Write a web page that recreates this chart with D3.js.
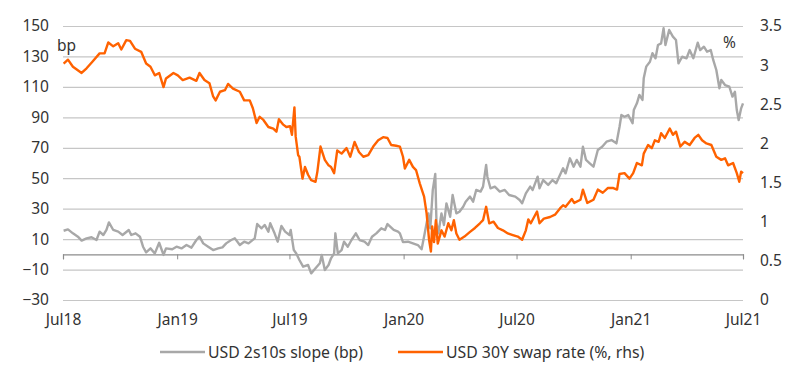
<!DOCTYPE html>
<html>
<head>
<meta charset="utf-8">
<script src="https://cdn.jsdelivr.net/npm/d3@7"></script>
<style>
  body { margin: 0; background: #fff; }
  text { font-family: "Noto Sans", sans-serif; fill: #333; }
</style>
</head>
<body>
<svg id="chart" width="800" height="374"></svg>
<script>
// donnees
const slopeDates = ["2018-07-02","2018-07-09","2018-07-17","2018-07-25","2018-07-31","2018-08-08","2018-08-16","2018-08-24","2018-08-29","2018-09-04",
  "2018-09-09","2018-09-13","2018-09-20","2018-09-28","2018-10-05","2018-10-15","2018-10-19","2018-10-26","2018-11-02","2018-11-07",
  "2018-11-12","2018-11-19","2018-11-26","2018-12-03","2018-12-10","2018-12-14","2018-12-24","2018-12-31","2019-01-08","2019-01-16",
  "2019-01-24","2019-02-01","2019-02-06","2019-02-12","2019-02-20","2019-02-28","2019-03-08","2019-03-15","2019-03-21","2019-03-29",
  "2019-04-04","2019-04-12","2019-04-19","2019-04-26","2019-05-06","2019-05-10","2019-05-17","2019-05-22","2019-05-28","2019-05-31",
  "2019-06-07","2019-06-12","2019-06-18","2019-06-24","2019-07-01","2019-07-03","2019-07-08","2019-07-12","2019-07-17","2019-07-23",
  "2019-07-31","2019-08-05","2019-08-12","2019-08-19","2019-08-22","2019-08-27","2019-09-02","2019-09-06","2019-09-11","2019-09-13",
  "2019-09-17","2019-09-23","2019-09-27","2019-10-03","2019-10-09","2019-10-16","2019-10-22","2019-10-30","2019-11-05","2019-11-11",
  "2019-11-18","2019-11-26","2019-12-02","2019-12-06","2019-12-16","2019-12-23","2019-12-26","2019-12-31","2020-01-08","2020-01-16",
  "2020-01-24","2020-01-30","2020-02-04","2020-02-10","2020-02-13","2020-02-17","2020-02-21","2020-02-23","2020-02-26","2020-03-02",
  "2020-03-06","2020-03-10","2020-03-16","2020-03-20","2020-03-26","2020-03-31","2020-04-06","2020-04-10","2020-04-17","2020-04-22",
  "2020-04-27","2020-05-04","2020-05-08","2020-05-13","2020-05-15","2020-05-20","2020-05-27","2020-06-04","2020-06-12","2020-06-19",
  "2020-06-29","2020-07-06","2020-07-10","2020-07-16","2020-07-23","2020-07-27","2020-08-04","2020-08-07","2020-08-13","2020-08-21",
  "2020-08-28","2020-09-03","2020-09-09","2020-09-14","2020-09-18","2020-09-25","2020-10-01","2020-10-06","2020-10-12","2020-10-16",
  "2020-10-21","2020-10-27","2020-11-02","2020-11-09","2020-11-16","2020-11-23","2020-12-01","2020-12-09","2020-12-14","2020-12-17",
  "2020-12-22","2020-12-28","2021-01-04","2021-01-06","2021-01-11","2021-01-15","2021-01-20","2021-01-22","2021-01-26","2021-02-01",
  "2021-02-05","2021-02-10","2021-02-14","2021-02-19","2021-02-23","2021-02-26","2021-03-04","2021-03-10","2021-03-15","2021-03-19",
  "2021-03-25","2021-04-01","2021-04-06","2021-04-12","2021-04-19","2021-04-23","2021-04-29","2021-05-04","2021-05-10","2021-05-14",
  "2021-05-19","2021-05-24","2021-05-27","2021-06-02","2021-06-09","2021-06-14","2021-06-18","2021-06-21","2021-06-24","2021-06-28",
  "2021-07-01"];
const slopeValues = [15.5,16.4,13.8,11.6,9.0,10.5,11.2,9.4,14.9,12.7,
  16.0,21.0,16.0,14.9,12.7,16.0,12.7,13.8,11.6,5.0,
  1.3,3.9,0.6,7.6,-0.4,3.9,3.3,5.0,3.9,6.1,
  4.4,9.4,11.6,7.2,5.0,2.8,3.9,4.6,7.2,9.4,
  10.5,6.1,8.3,7.2,10.5,19.9,17.1,19.3,14.9,20.4,
  13.8,8.3,18.6,14.9,12.7,16.0,2.8,0.6,-3.7,-8.1,
  -7.0,-12.5,-9.2,-5.9,-0.4,-10.3,-7.0,-2.6,0.6,13.8,
  0.6,2.8,8.3,5.0,9.4,13.8,9.4,8.3,6.1,11.6,
  13.8,17.1,16.0,19.9,16.0,14.9,13.8,8.0,8.3,7.2,
  6.1,3.3,13.8,26.9,17.1,42.3,52.8,20.4,13.8,26.9,
  19.3,33.5,24.7,39.0,26.9,28.0,31.3,34.6,37.9,34.6,
  42.3,41.2,44.5,58.7,51.0,43.4,44.5,41.2,42.3,39.0,
  37.9,35.7,33.5,40.1,44.5,42.3,51.0,43.4,48.8,45.6,
  48.8,46.7,52.1,56.5,53.2,63.1,57.6,62.0,57.6,70.7,
  62.0,59.8,57.6,68.5,70.7,74.0,75.1,72.9,83.8,91.5,
  90.4,91.5,86.1,94.8,99.2,104.7,101.4,115.6,123.3,126.5,
  132.1,128.8,137.5,138.6,148.5,137.5,147.4,143.0,140.8,125.5,
  129.8,128.8,134.2,128.8,139.0,134.2,136.4,133.1,134.2,127.7,
  121.1,109.1,114.5,111.2,110.1,103.6,106.8,94.8,88.2,95.9,
  99.2];

const swapDates = ["2018-07-02","2018-07-09","2018-07-17","2018-07-31","2018-08-08","2018-08-17","2018-08-29","2018-09-06","2018-09-12","2018-09-20",
  "2018-09-28","2018-10-03","2018-10-11","2018-10-17","2018-10-25","2018-11-04","2018-11-12","2018-11-19","2018-11-26","2018-12-03",
  "2018-12-10","2018-12-14","2018-12-26","2019-01-02","2019-01-10","2019-01-21","2019-02-01","2019-02-06","2019-02-14","2019-02-22",
  "2019-02-28","2019-03-04","2019-03-11","2019-03-19","2019-03-24","2019-04-01","2019-04-12","2019-04-19","2019-04-28","2019-05-03",
  "2019-05-09","2019-05-14","2019-05-20","2019-05-28","2019-06-05","2019-06-10","2019-06-14","2019-06-21","2019-06-26","2019-07-02",
  "2019-07-05","2019-07-09","2019-07-11","2019-07-15","2019-07-17","2019-07-22","2019-07-26","2019-07-31","2019-08-05","2019-08-12",
  "2019-08-15","2019-08-20","2019-08-27","2019-09-02","2019-09-06","2019-09-11","2019-09-16","2019-09-23","2019-10-01","2019-10-07",
  "2019-10-14","2019-10-21","2019-10-28","2019-11-05","2019-11-13","2019-11-21","2019-11-29","2019-12-06","2019-12-12","2019-12-20",
  "2019-12-26","2019-12-31","2020-01-03","2020-01-10","2020-01-16","2020-01-21","2020-01-27","2020-02-03","2020-02-07","2020-02-11",
  "2020-02-14","2020-02-16","2020-02-19","2020-02-22","2020-02-25","2020-03-02","2020-03-07","2020-03-13","2020-03-18","2020-03-22",
  "2020-03-26","2020-03-31","2020-04-08","2020-04-17","2020-04-25","2020-05-03","2020-05-08","2020-05-13","2020-05-18","2020-05-25",
  "2020-06-01","2020-06-09","2020-06-17","2020-06-25","2020-07-03","2020-07-10","2020-07-16","2020-07-20","2020-07-24","2020-08-03",
  "2020-08-07","2020-08-14","2020-08-24","2020-09-01","2020-09-09","2020-09-14","2020-09-18","2020-09-28","2020-10-02","2020-10-12",
  "2020-10-16","2020-10-23","2020-11-02","2020-11-09","2020-11-17","2020-11-25","2020-12-04","2020-12-10","2020-12-14","2020-12-22",
  "2020-12-30","2021-01-05","2021-01-11","2021-01-19","2021-01-22","2021-01-29","2021-02-04","2021-02-09","2021-02-15","2021-02-19",
  "2021-02-25","2021-03-05","2021-03-10","2021-03-15","2021-03-22","2021-03-29","2021-04-06","2021-04-14","2021-04-20","2021-04-26",
  "2021-05-03","2021-05-11","2021-05-19","2021-05-27","2021-06-02","2021-06-07","2021-06-15","2021-06-21","2021-06-25","2021-06-28",
  "2021-07-01"];
const swapValues = [3.02,3.07,2.98,2.90,2.96,3.04,3.15,3.15,3.29,3.24,
  3.28,3.20,3.32,3.31,3.21,3.17,3.02,2.98,2.87,2.90,
  2.72,2.83,2.90,2.87,2.81,2.84,2.80,2.90,2.81,2.77,
  2.60,2.55,2.66,2.68,2.76,2.70,2.66,2.55,2.55,2.45,
  2.26,2.34,2.30,2.21,2.19,2.15,2.31,2.24,2.21,2.22,
  2.11,2.46,2.09,1.85,1.83,1.55,1.70,1.60,1.53,1.51,
  1.64,1.96,1.79,1.72,1.70,1.62,1.91,1.87,1.94,1.83,
  2.02,1.89,1.83,1.85,1.96,2.04,2.08,2.07,1.98,1.97,
  1.96,1.83,1.68,1.79,1.70,1.66,1.49,1.32,1.11,0.77,
  0.62,0.94,0.74,1.02,0.72,0.89,0.81,0.98,0.89,1.02,
  0.85,0.77,0.81,0.87,0.92,0.98,1.02,1.19,0.98,1.00,
  0.92,0.89,0.85,0.83,0.81,0.77,0.89,1.03,0.98,1.13,
  0.98,1.04,1.06,1.09,1.17,1.21,1.19,1.29,1.24,1.28,
  1.41,1.24,1.28,1.41,1.37,1.43,1.43,1.41,1.61,1.62,
  1.55,1.62,1.75,1.72,1.87,1.98,1.94,2.04,2.02,2.13,
  2.07,2.19,2.11,2.15,1.96,2.02,1.98,2.07,2.11,2.04,
  2.00,1.98,1.83,1.79,1.81,1.72,1.75,1.62,1.51,1.64,
  1.62];

const leftTicks = [150,130,110,90,70,50,30,10,-10,-30];
const rightTicks = [0,0.5,1,1.5,2,2.5,3,3.5];
const xTicks = ["2018-07-01","2019-01-01","2019-07-01","2020-01-01","2020-07-01","2021-01-01","2021-07-01"];

const seriesNames = ["USD 2s10s slope (bp)", "USD 30Y swap rate (%, rhs)"];
const colors = ["#A8A8A8", "#FF6200"];


//dimensions
let margin = {top: 26, right: 57, bottom: 74, left: 63};
let svg = d3.select("#chart");
let width = 800 - margin.left - margin.right,
    height = 374 - margin.top - margin.bottom;

let parse = d3.timeParse("%Y-%m-%d");

let x = d3.scaleTime()
  .domain([parse("2018-07-01"), parse("2021-07-01")])
  .range([0, width]);
let yL = d3.scaleLinear().domain([-30, 150]).range([height, 0]);
let yR = d3.scaleLinear().domain([0, 3.5]).range([height, 0]);

let g = svg.append("g")
  .attr("transform", "translate(" + margin.left + "," + margin.top + ")");

//grille
g.append("g")
  .attr("class", "grid")
  .call(d3.axisLeft(yL).tickValues(leftTicks).tickSize(-width).tickFormat(""))
  .call(s => s.select(".domain").remove())
  .selectAll("line")
  .attr("stroke", "#C6C6C6")
  .attr("stroke-width", 1.2);

//axe gauche
g.append("g")
  .call(d3.axisLeft(yL).tickValues(leftTicks).tickSize(0).tickPadding(14).tickFormat(d3.format("d")))
  .call(s => s.select(".domain").remove())
  .selectAll("text")
  .style("font-size", "15.5px")
  .attr("fill", "#333");

//axe droit
g.append("g")
  .attr("transform", "translate(" + width + ",0)")
  .call(d3.axisRight(yR).tickValues(rightTicks).tickSize(0).tickPadding(17).tickFormat(d => d))
  .call(s => s.select(".domain").remove())
  .selectAll("text")
  .style("font-size", "15.5px")
  .attr("fill", "#333");

//axe x sur la ligne zero
let xAxis = g.append("g")
  .attr("transform", "translate(0," + yL(0) + ")")
  .call(d3.axisBottom(x).tickValues(xTicks.map(parse)).tickSize(5).tickFormat(d3.timeFormat("%b%y")));
xAxis.select(".domain").attr("stroke", "#8C8C8C").attr("stroke-width", 1.2);
xAxis.selectAll(".tick line").attr("stroke", "#8C8C8C");
xAxis.selectAll("text")
  .attr("y", height - yL(0) + 14)
  .style("font-size", "15.5px")
  .attr("fill", "#333");

//courbes
let lineL = d3.line()
  .x(function(d) { return x(d.date); })
  .y(function(d) { return yL(d.value); });
let lineR = d3.line()
  .x(function(d) { return x(d.date); })
  .y(function(d) { return yR(d.value); });

let slope = slopeDates.map((d, i) => ({date: parse(d), value: slopeValues[i]}));
let swap = swapDates.map((d, i) => ({date: parse(d), value: swapValues[i]}));

g.append("path")
  .datum(slope)
  .attr("fill", "none")
  .attr("stroke", colors[0])
  .attr("stroke-width", 2.4)
  .attr("stroke-linejoin", "round")
  .attr("d", lineL);

g.append("path")
  .datum(swap)
  .attr("fill", "none")
  .attr("stroke", colors[1])
  .attr("stroke-width", 2.4)
  .attr("stroke-linejoin", "round")
  .attr("d", lineR);

//unites
svg.append("text").attr("x", 57).attr("y", 51).style("font-size", "15.5px").text("bp");
svg.append("text").attr("x", 723).attr("y", 48).style("font-size", "15.5px").text("%");

//legende
let legend = svg.append("g").attr("transform", "translate(0,352)");
let legX = [160, 398];
seriesNames.forEach(function(name, i) {
  legend.append("line")
    .attr("x1", legX[i]).attr("x2", legX[i] + 45)
    .attr("y1", 0).attr("y2", 0)
    .attr("stroke", colors[i])
    .attr("stroke-width", 2.4);
  legend.append("text")
    .attr("x", legX[i] + 48)
    .attr("y", 5.5)
    .style("font-size", "15.8px")
    .text(name);
});
</script>
</body>
</html>
